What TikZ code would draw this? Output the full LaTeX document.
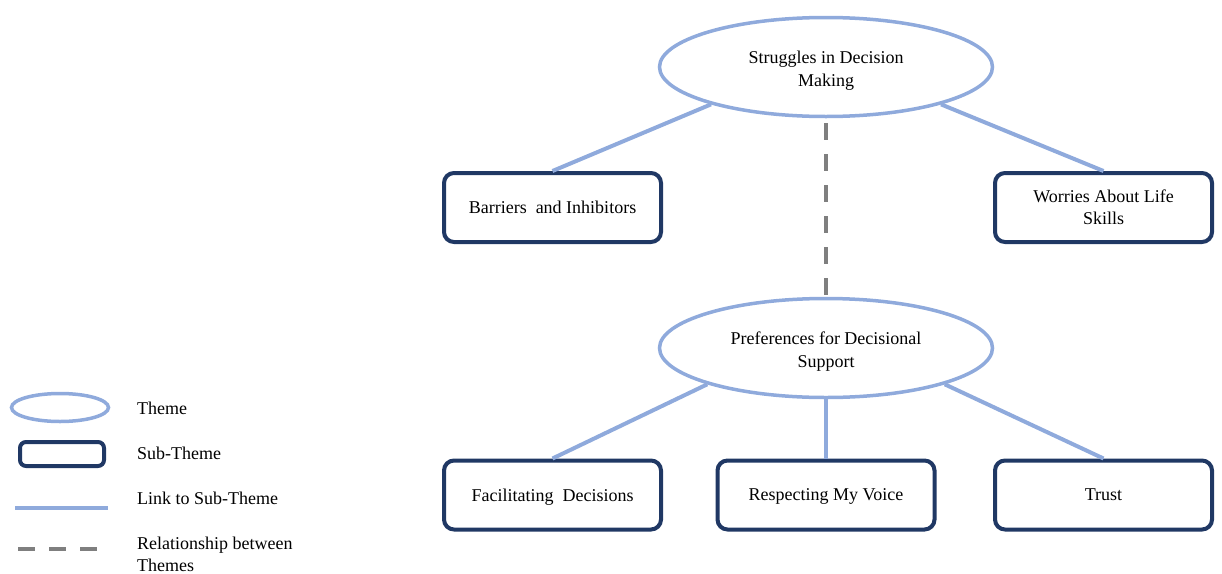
\documentclass[tikz,border=0pt]{standalone}
\usepackage{fontspec}
\setmainfont{Liberation Serif}
\usetikzlibrary{shapes.geometric}

\definecolor{themeblue}{HTML}{8FAADC}
\definecolor{subnavy}{HTML}{203864}
\definecolor{relgray}{HTML}{7F7F7F}

\begin{document}
\begin{tikzpicture}[
    x=1pt, y=-1pt,
    theme_node/.style={ellipse, draw=themeblue, line width=3.5pt, fill=white, minimum width=333pt, minimum height=99pt, inner sep=0pt, align=center, text height=39pt, text depth=0pt, font=\fontsize{18}{23}\selectfont},
    sub_theme/.style={rectangle, draw=subnavy, line width=4pt, fill=white, rounded corners=10pt, minimum width=217pt, minimum height=69pt, inner sep=0pt, align=center, text depth=0pt, font=\fontsize{18}{22}\selectfont},
    link/.style={draw=themeblue, line width=4pt},
    relation/.style={draw=relgray, line width=4pt, dash pattern=on 17pt off 14pt},
    legend_label/.style={anchor=west, align=left, inner sep=0pt, font=\fontsize{18}{22}\selectfont}
]
\useasboundingbox (0,0) rectangle (1222,573);

% Themes
\node[theme_node] (struggles) at (826,67) {Struggles in Decision\\Making};
\node[theme_node] (preferences) at (826,348) {Preferences for Decisional\\Support};

% Sub-themes of the first theme
\node[sub_theme] (barriers) at (552.5,207.5) {Barriers\ \ and Inhibitors};
\node[sub_theme] (worries) at (1103.5,207.5) {Worries About Life\\Skills};

% Sub-themes of the second theme
\node[sub_theme] (facilitating) at (552.5,495) {Facilitating\ \ Decisions};
\node[sub_theme] (voice) at (826,495) {Respecting My Voice};
\node[sub_theme] (trust) at (1103.5,495) {Trust};

% Links to sub-themes
\draw[link] (struggles.198) -- (barriers.north);
\draw[link] (struggles.342) -- (worries.north);
\draw[link] (preferences.197) -- (facilitating.north);
\draw[link] (preferences.south) -- (voice.north);
\draw[link] (preferences.343) -- (trust.north);

% Relationship between themes
\draw[relation] ([yshift=-5pt]struggles.south) -- (preferences.north);

% Legend
\node[ellipse, draw=themeblue, line width=3.5pt, minimum width=97pt, minimum height=28pt, inner sep=0pt] (key_theme) at (60,407.5) {};
\node[rectangle, draw=subnavy, line width=4pt, rounded corners=6pt, minimum width=84pt, minimum height=24pt, inner sep=0pt] (key_sub) at (62,454) {};
\coordinate (key_link_a) at (15,508);
\coordinate (key_link_b) at (108,508);
\draw[link] (key_link_a) -- (key_link_b);
\coordinate (key_rel_a) at (18,549);
\coordinate (key_rel_b) at (100,549);
\draw[relation] (key_rel_a) -- (key_rel_b);

\node[legend_label] (lbl_theme) at (137,408) {Theme};
\node[legend_label] (lbl_sub) at (137,453) {Sub-Theme};
\node[legend_label] (lbl_link) at (137,498) {Link to Sub-Theme};
\node[legend_label] (lbl_rel) at (137,554) {Relationship between\\Themes};

\end{tikzpicture}
\end{document}
